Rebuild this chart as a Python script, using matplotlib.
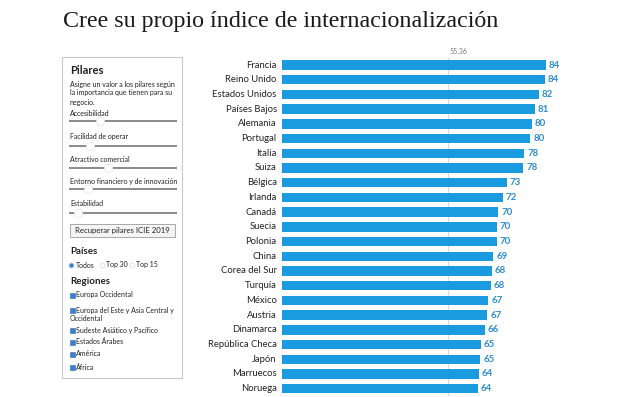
import matplotlib
matplotlib.use("Agg")
import matplotlib.pyplot as plt
from matplotlib.patches import Rectangle
from matplotlib.lines import Line2D
import matplotlib.transforms as mtransforms

# ---------------- data ----------------
countries = ["Francia", "Reino Unido", "Estados Unidos", "Países Bajos", "Alemania",
             "Portugal", "Italia", "Suiza", "Bélgica", "Irlanda", "Canadá", "Suecia",
             "Polonia", "China", "Corea del Sur", "Turquía", "México", "Austria",
             "Dinamarca", "República Checa", "Japón", "Marruecos", "Noruega"]
scores = [84, 84, 82, 81, 80, 80, 78, 78, 73, 72, 70, 70, 70, 69, 68, 68, 67, 67,
          66, 65, 65, 64, 64]
exact_scores = [84.2, 83.9, 82.1, 81.0, 80.0, 79.6, 77.9, 77.6, 72.7, 71.6, 70.2, 69.8,
                69.8, 68.7, 68.3, 68.0, 67.3, 67.0, 66.2, 65.1, 64.9, 64.4, 64.1]
average = 55.36
average_label = "55,36"

title = "Cree su propio índice de internacionalización"
pillars = ["Accesibilidad", "Facilidad de operar", "Atractivo comercial",
           "Entorno financiero y de innovación", "Estabilidad"]
pillar_thumbs = [100, 90, 108, 88, 78]
country_options = ["Todos", "Top 30", "Top 15"]
regions = ["Europa Occidental", "Europa del Este y Asia Central y\nOccidental",
           "Sudeste Asiático y Pacífico", "Estados Árabes", "América", "África"]

W, H = 643, 397
BAR = "#1a9be0"
LBL = "#2f8ccc"
SANS = ["Lato", "DejaVu Sans"]

fig = plt.figure(figsize=(W / 100, H / 100), dpi=100)
fig.patch.set_facecolor("white")


def fx(x):
    return x / W


def fy(y):
    return 1 - y / H


# ---------------- title ----------------
fig.text(fx(63), fy(21), title, family=["Liberation Serif", "DejaVu Serif"],
         fontsize=17.3, color="#1a1a1a", va="center", ha="left")

# ---------------- bar chart ----------------
x0 = 6.5
x1 = 100
left_px, right_px = 281.7, 281.7 + (x1 - x0) * 3.4
n = len(countries)
step = (388.7 - 65) / (n - 1)
top_px = 65 - step / 2
bottom_px = top_px + n * step
ax = fig.add_axes([fx(left_px), fy(bottom_px), (right_px - left_px) / W,
                   (bottom_px - top_px) / H])
ax.set_xlim(x0, x1)
ax.set_ylim(n - 0.5, -0.5)
ax.axis("off")

ypos = list(range(n))
ax.axvline(average, color="#d9d9d9", lw=0.8, zorder=0, ymin=0, ymax=1.0)
ax.barh(ypos, exact_scores, left=0, height=0.64, color=BAR, zorder=2, clip_on=True)

off = mtransforms.offset_copy(ax.transData, fig=fig, x=3, y=0, units="dots")
offl = mtransforms.offset_copy(ax.transData, fig=fig, x=-5, y=0, units="dots")
for i, (c, s, e) in enumerate(zip(countries, scores, exact_scores)):
    ax.text(e, i, str(s), transform=off, color=LBL, fontsize=7, fontweight="bold",
            family=SANS, va="center", ha="left")
    ax.text(x0, i, c, transform=offl, color="#222222", fontsize=6.8, family=SANS,
            va="center", ha="right", clip_on=False)

offa = mtransforms.offset_copy(ax.transData, fig=fig, x=2, y=0, units="dots")
ax.text(average, -0.95, average_label, transform=offa, color="#777777", fontsize=5,
        family=SANS, va="center", ha="left", clip_on=False)

# ---------------- left control panel ----------------
panel = Rectangle((fx(62), fy(378)), fx(182) - fx(62), fy(57) - fy(378),
                  transform=fig.transFigure, facecolor="white", edgecolor="#c8c8c8",
                  lw=0.8, zorder=1)
fig.patches.append(panel)

FS = 5.0
txt_kw = dict(family=SANS, color="#222222", va="center", ha="left", zorder=3)
fig.text(fx(70), fy(71), "Pilares", fontsize=8, fontweight="bold", **txt_kw)
for yy, line in zip([84, 93, 102], ["Asigne un valor a los pilares según",
                                     "la importancia que tienen para su",
                                     "negocio."]):
    fig.text(fx(70), fy(yy), line, fontsize=FS, **txt_kw)

label_ys = [114, 137, 159, 181, 204]
slider_ys = [121, 146, 168, 189, 213]
for name, ly, sy, tx in zip(pillars, label_ys, slider_ys, pillar_thumbs):
    fig.text(fx(70), fy(ly), name, fontsize=FS, **txt_kw)
    fig.add_artist(Line2D([fx(70), fx(176)], [fy(sy), fy(sy)],
                          transform=fig.transFigure, color="#8a8a8a", lw=1.4,
                          zorder=2))
    fig.add_artist(Line2D([fx(tx)], [fy(sy)], transform=fig.transFigure,
                          marker="o", markersize=6, markerfacecolor="white",
                          markeredgecolor="#e4e4e4", markeredgewidth=0.5,
                          linestyle="none", zorder=3))

btn = Rectangle((fx(70), fy(237)), fx(175) - fx(70), fy(224) - fy(237),
                transform=fig.transFigure, facecolor="#f4f4f4", edgecolor="#a8a8a8",
                lw=0.7, zorder=2)
fig.patches.append(btn)
fig.text(fx(122.5), fy(230.5), "Recuperar pilares ICIE 2019", fontsize=5.6,
         family=SANS, color="#222222", va="center", ha="center", zorder=3)

fig.text(fx(70), fy(252), "Países", fontsize=7, fontweight="bold", **txt_kw)
radio_x = [71, 102, 132]
for i, (opt, rx) in enumerate(zip(country_options, radio_x)):
    fc = "#3b7fd0" if i == 0 else "white"
    ec = "#9cc0ea" if i == 0 else "#e0e0e0"
    fig.add_artist(Line2D([fx(rx)], [fy(265)], transform=fig.transFigure,
                          marker="o", markersize=3.4, markerfacecolor=fc,
                          markeredgecolor=ec, markeredgewidth=0.6,
                          linestyle="none", zorder=3))
    fig.text(fx(rx + 4.5), fy(265), opt, fontsize=FS, **txt_kw)

fig.text(fx(70), fy(282), "Regiones", fontsize=7, fontweight="bold", **txt_kw)
region_ys = [295, 310, 330, 342, 354, 367]
for reg, ry in zip(regions, region_ys):
    fig.patches.append(Rectangle((fx(69.5), fy(ry + 2.5)), 5 / W, 5 / H,
                                 transform=fig.transFigure, facecolor="#3b7fd0",
                                 edgecolor="#2f6db8", lw=0.4, zorder=3))
    lines = reg.split("\n")
    fig.text(fx(76), fy(ry), lines[0], fontsize=FS, **txt_kw)
    if len(lines) > 1:
        fig.text(fx(70), fy(ry + 8.5), lines[1], fontsize=FS, **txt_kw)

fig.savefig("out.png", dpi=100)
